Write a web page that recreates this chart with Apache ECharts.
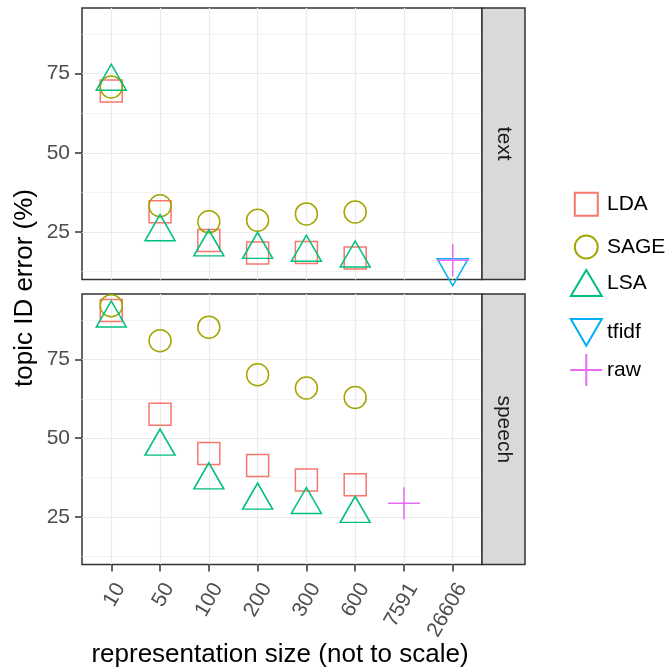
<!DOCTYPE html>
<html><head><meta charset="utf-8">
<script src="https://cdn.jsdelivr.net/npm/echarts@6/dist/echarts.min.js"></script>
<style>html,body{margin:0;padding:0;background:#fff}#c{width:667px;height:671px}</style>
</head><body><div id="c"></div>
<script>
// categories (x, not to scale)
const sizes = ['10','50','100','200','300','600','7591','26606'];
const methods = ['LDA','SAGE','LSA','tfidf','raw'];
const facets = ['text','speech'];
const yTicks = [25, 50, 75];
const yMinorTicks = [12.5, 37.5, 62.5, 87.5];

// topic ID error (%) - facet "text"
const LDA_text   = [69.5, 31.4, 22.3, 18.4, 18.5, 16.8, null, null];
const SAGE_text  = [70.8, 33.3, 28.2, 28.7, 30.7, 31.3, null, null];
const LSA_text   = [72.5, 25.0, 20.2, 19.4, 18.5, 16.7, null, null];
const tfidf_text = [null, null, null, null, null, null, null, 13.7];
const raw_text   = [null, null, null, null, null, null, null, 16.1];

// topic ID error (%) - facet "speech"
const LDA_speech   = [90.5, 57.6, 45.2, 41.4, 36.8, 35.3, null, null];
const SAGE_speech  = [92.0, 80.9, 85.2, 70.1, 65.9, 62.9, null, null];
const LSA_speech   = [88.0, 47.4, 36.7, 30.3, 28.9, 26.1, null, null];
const tfidf_speech = [null, null, null, null, null, null, null, null];
const raw_speech   = [null, null, null, null, null, null, 29.4, null];

const dataByFacet = {
  text:   [LDA_text, SAGE_text, LSA_text, tfidf_text, raw_text],
  speech: [LDA_speech, SAGE_speech, LSA_speech, tfidf_speech, raw_speech]
};

const colors = {LDA:'#F8766D', SAGE:'#A3A500', LSA:'#00BF7D', tfidf:'#00B0F6', raw:'#E76BF3'};
const symbols = {
  LDA:   {symbol:'path://M0,0H10V10H0Z', size:[22,22], offset:[0,0], legendW:23, legendH:23},
  SAGE:  {symbol:'circle', size:[22,22], offset:[0,0], legendW:23, legendH:23},
  LSA:   {symbol:'triangle', size:[30,26], offset:[0,-4.3], legendW:31, legendH:26},
  tfidf: {symbol:'path://M0,0H10L5,8.66Z', size:[31,27], offset:[0,4.5], legendW:31, legendH:27},
  raw:   {symbol:'path://M5,0V10M0,5H10', size:[32,32], offset:[0,0], legendW:32, legendH:32}
};
const legendCenters = [203.3, 246, 282, 331.5, 369];

const FONT = '"Liberation Sans", Arial, Helvetica, sans-serif';
const YMIN = 10.0, YMAX = 95.7;
const panels = [{top:8, height:271.5}, {top:294, height:270.5}];

const grids = panels.map(p => ({left:82, top:p.top, width:400, height:p.height,
  show:true, backgroundColor:'#fff', borderColor:'#333333', borderWidth:1.5, containLabel:false}));

const xAxes = facets.map((f, gi) => ({
  type:'value', gridIndex:gi, min:-0.6, max:7.6,
  axisLine:{show:false, onZero:false},
  axisTick:{show: gi === 1, length:7, lineStyle:{color:'#333333', width:1.5}, customValues:[0,1,2,3,4,5,6,7]},
  axisLabel:{show: gi === 1, customValues:[0,1,2,3,4,5,6,7], rotate:60, margin:15, verticalAlign:'top',
    formatter: v => sizes[Math.round(v)], color:'#4D4D4D', fontSize:21, fontFamily:FONT},
  splitLine:{show:true, lineStyle:{color:'#EBEBEB', width:1.2}},
  minorSplitLine:{show:false}
}));

const yAxes = [];
facets.forEach((f, gi) => {
  yAxes.push({type:'value', gridIndex:gi, min:YMIN, max:YMAX, position:'left',
    axisLine:{show:false, onZero:false},
    axisTick:{show:true, length:7, lineStyle:{color:'#333333', width:1.5}, customValues:yTicks},
    axisLabel:{show:true, customValues:yTicks, margin:12, color:'#4D4D4D', fontSize:21, fontFamily:FONT},
    splitLine:{show:true, lineStyle:{color:'#EBEBEB', width:1.2}}});
  yAxes.push({type:'value', gridIndex:gi, min:YMIN, max:YMAX, position:'left', offset:0,
    axisLine:{show:false, onZero:false},
    axisTick:{show:false, customValues:yMinorTicks},
    axisLabel:{show:false, customValues:yMinorTicks},
    splitLine:{show:true, lineStyle:{color:'#F0F0F0', width:0.8}}});
});

const series = [];
facets.forEach((f, gi) => {
  methods.forEach((m, mi) => {
    const arr = dataByFacet[f][mi];
    const pts = [];
    arr.forEach((v, i) => { if (v !== null) pts.push([i, v]); });
    const s = symbols[m];
    series.push({
      type:'scatter', name:m, xAxisIndex:gi, yAxisIndex:gi*2,
      data:pts, symbol:s.symbol, symbolSize:s.size, symbolOffset:s.offset,
      clip:true, silent:true, z:2 + mi,
      itemStyle:{color:'rgba(0,0,0,0)', borderColor:colors[m], borderWidth:1.5, opacity:1},
      emphasis:{disabled:true}
    });
  });
});

const legends = methods.map((m, mi) => {
  const s = symbols[m];
  const left = 585.3 - s.legendW/2;
  return {
    data:[m], orient:'vertical', left:left, top:legendCenters[mi] - s.legendH/2,
    padding:0, itemWidth:s.legendW, itemHeight:s.legendH, itemGap:0, selectedMode:false,
    symbolKeepAspect:true,
    textStyle:{color:'#000', fontSize:21, fontFamily:FONT, padding:[0,0,0, 606 - (left + s.legendW + 5)]}
  };
});

const graphics = [];
panels.forEach((p, gi) => {
  graphics.push({type:'rect', z:10, shape:{x:482, y:p.top, width:43, height:p.height},
    style:{fill:'#D9D9D9', stroke:'#333333', lineWidth:1.5}});
  graphics.push({type:'text', z:11, x:503.5, y:p.top + p.height/2, rotation:-Math.PI/2,
    style:{text:facets[gi], font:'21px ' + FONT, fill:'#1A1A1A', align:'center', verticalAlign:'middle'}});
});
graphics.push({type:'text', x:25, y:288, rotation:Math.PI/2,
  style:{text:'topic ID error (%)', font:'26px ' + FONT, fill:'#000', align:'center', verticalAlign:'middle'}});
graphics.push({type:'text', x:280, y:655,
  style:{text:'representation size (not to scale)', font:'26px ' + FONT, fill:'#000', align:'center', verticalAlign:'middle'}});

const chart = echarts.init(document.getElementById('c'), null, {renderer:'canvas'});
chart.setOption({
  animation:false,
  backgroundColor:'#fff',
  grid:grids, xAxis:xAxes, yAxis:yAxes, series:series,
  legend:legends, graphic:graphics
});
</script></body></html>
